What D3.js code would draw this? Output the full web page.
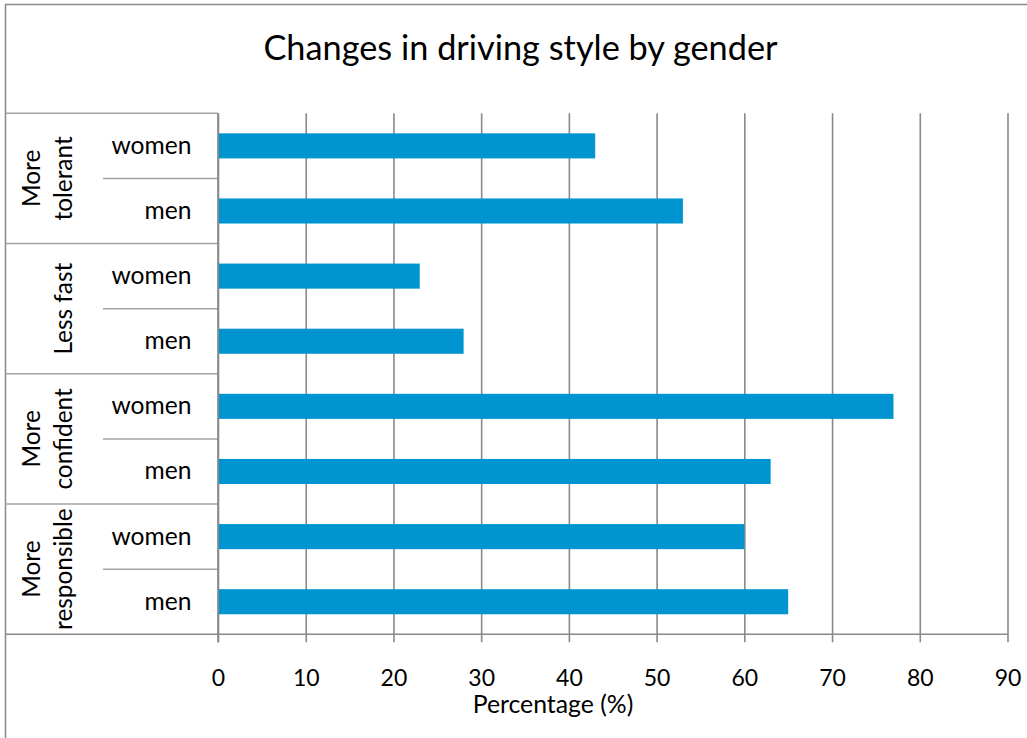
<!DOCTYPE html>
<html>
<head>
<meta charset="utf-8">
<script src="https://cdn.jsdelivr.net/npm/d3@7"></script>
<style>
  html, body { margin: 0; padding: 0; background: #fff; }
  svg { display: block; }
  text { font-family: "Lato", "Open Sans", sans-serif; fill: #000; }
</style>
</head>
<body>
<svg id="chart" width="1027" height="738"></svg>
<script>
// Survey results: share of drivers reporting each change, by gender
const groups = ["More tolerant", "Less fast", "More confident", "More responsible"];
const groupLines = [["More", "tolerant"], ["Less fast"], ["More", "confident"], ["More", "responsible"]];
const genders = ["women", "men"];
const womenValues = [43, 23, 77, 60];
const menValues = [53, 28, 63, 65];
const xTicks = [0, 10, 20, 30, 40, 50, 60, 70, 80, 90];
const title = "Changes in driving style by gender";
const xTitle = "Percentage (%)";

const rows = [];
groups.forEach((g, i) => {
  rows.push({ group: g, gender: "women", value: womenValues[i], key: g + "|women" });
  rows.push({ group: g, gender: "men", value: menValues[i], key: g + "|men" });
});

const svg = d3.select("#chart");
const gridColor = "#898989";
const sepColor = "#a3a3a3";
const barColor = "#0095d0";

const plotLeft = 218, plotRight = 1007.5, plotTop = 113.3, plotBottom = 634.3;
const catLeft = 5.5, subLeft = 103;

const x = d3.scaleLinear().domain([0, 90]).range([plotLeft, plotRight]);
const y = d3.scaleBand().domain(rows.map(d => d.key)).range([plotTop, plotBottom]).padding(0);
const barRatio = 0.385;

// outer chart border (runs past the right and bottom edges)
svg.append("rect")
  .attr("x", 5.5).attr("y", 4.5)
  .attr("width", 1100).attr("height", 1000)
  .attr("fill", "none").attr("stroke", gridColor).attr("stroke-width", 1.5);

// title
svg.append("text")
  .attr("x", 520.5).attr("y", 59.5)
  .attr("text-anchor", "middle")
  .style("font-size", "34.3px")
  .text(title);

// vertical gridlines with tick marks below the plot
const xAxis = d3.axisBottom(x).tickValues(xTicks).tickSize(plotBottom - plotTop + 8).tickPadding(0).tickFormat(d3.format("d"));
const gx = svg.append("g").attr("transform", `translate(0,${plotTop})`).call(xAxis);
gx.select(".domain").remove();
gx.selectAll(".tick line").attr("stroke", gridColor).attr("stroke-width", 1.6);
gx.selectAll(".tick text")
  .attr("y", null).attr("dy", null)
  .attr("transform", `translate(0,${685.5 - plotTop})`)
  .style("font-size", "23px");

// bottom axis line spanning the category area
svg.append("line")
  .attr("x1", catLeft).attr("x2", plotRight + 0.5)
  .attr("y1", plotBottom).attr("y2", plotBottom)
  .attr("stroke", gridColor).attr("stroke-width", 1.6);

// category box: top edge, group separators, row separators
const groupEdges = [plotTop].concat(groups.map((g, i) => y(g + "|men") + y.bandwidth()));
svg.selectAll("line.group-sep")
  .data(groupEdges.slice(0, -1))
  .join("line")
  .attr("class", "group-sep")
  .attr("x1", catLeft).attr("x2", plotLeft)
  .attr("y1", d => d).attr("y2", d => d)
  .attr("stroke", sepColor).attr("stroke-width", 1.6);

svg.selectAll("line.row-sep")
  .data(groups)
  .join("line")
  .attr("class", "row-sep")
  .attr("x1", subLeft).attr("x2", plotLeft)
  .attr("y1", g => y(g + "|men")).attr("y2", g => y(g + "|men"))
  .attr("stroke", sepColor).attr("stroke-width", 1.6);

// bars
svg.selectAll("rect.bar")
  .data(rows)
  .join("rect")
  .attr("class", "bar")
  .attr("x", x(0) + 0.8)
  .attr("y", d => y(d.key) + y.bandwidth() * (1 - barRatio) / 2)
  .attr("width", d => x(d.value) - x(0) - 0.8)
  .attr("height", y.bandwidth() * barRatio)
  .attr("fill", barColor);

// value axis line at zero
svg.append("line")
  .attr("x1", x(0)).attr("x2", x(0))
  .attr("y1", plotTop).attr("y2", plotBottom + 8)
  .attr("stroke", gridColor).attr("stroke-width", 1.6);

// gender labels
svg.selectAll("text.sub")
  .data(rows)
  .join("text")
  .attr("class", "sub")
  .attr("x", 191.5)
  .attr("y", d => y(d.key) + y.bandwidth() / 2 + 8)
  .attr("text-anchor", "end")
  .style("font-size", "24.6px")
  .text(d => d.gender);

// rotated group labels, lines stacked toward the right
groups.forEach((g, i) => {
  const cy = (y(g + "|women") + y(g + "|men") + y.bandwidth()) / 2;
  const lines = groupLines[i];
  const t = svg.append("text")
    .attr("transform", `translate(0,${cy}) rotate(-90)`)
    .attr("text-anchor", "middle")
    .style("font-size", "24.4px");
  lines.forEach((ln, j) => {
    const baseX = 71.5 - (lines.length - 1 - j) * 32;
    t.append("tspan").attr("x", 0).attr("y", baseX).text(ln);
  });
});

// axis title
svg.append("text")
  .attr("x", 553).attr("y", 713)
  .attr("text-anchor", "middle")
  .style("font-size", "24.8px")
  .text(xTitle);
</script>
</body>
</html>
